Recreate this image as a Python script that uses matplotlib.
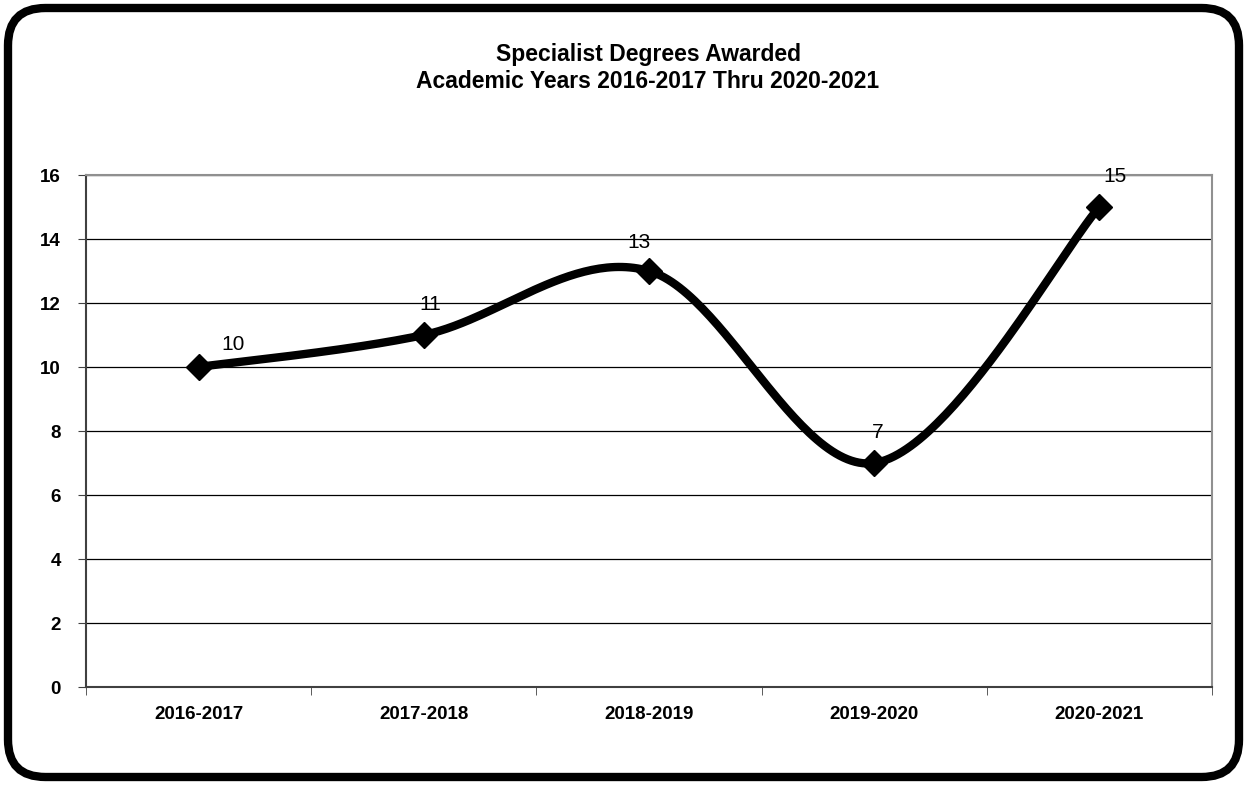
import numpy as np
import matplotlib.pyplot as plt
from matplotlib.patches import FancyBboxPatch

years = ['2016-2017', '2017-2018', '2018-2019', '2019-2020', '2020-2021']
degrees = [10, 11, 13, 7, 15]

plt.rcParams['font.family'] = ['Liberation Sans Narrow', 'Liberation Sans', 'DejaVu Sans']

fig = plt.figure(figsize=(12.47, 7.85), dpi=100)
ax = fig.add_axes([86 / 1247, 1 - 687 / 785, 1126 / 1247, 512 / 785])

# rounded outer frame
frame = FancyBboxPatch((8 / 1247, 8 / 785), 1231 / 1247, 769 / 785,
                       boxstyle='round,pad=0,rounding_size=0.03',
                       transform=fig.transFigure, fill=False,
                       edgecolor='black', linewidth=6, mutation_aspect=1247 / 785)
fig.patches.append(frame)

x = np.arange(len(years))
y = np.array(degrees, dtype=float)

# Excel style smoothed line (Catmull-Rom between points)
px = np.concatenate([[x[0]], x, [x[-1]]])
py = np.concatenate([[y[0]], y, [y[-1]]])
sx, sy = [], []
t = np.linspace(0, 1, 60)
for i in range(1, len(px) - 2):
    p0, p1, p2, p3 = np.array([px[i-1], py[i-1]]), np.array([px[i], py[i]]), np.array([px[i+1], py[i+1]]), np.array([px[i+2], py[i+2]])
    c1 = p1 + (p2 - p0) / 6
    c2 = p2 - (p3 - p1) / 6
    for tt in t:
        pt = (1-tt)**3*p1 + 3*(1-tt)**2*tt*c1 + 3*(1-tt)*tt**2*c2 + tt**3*p2
        sx.append(pt[0]); sy.append(pt[1])

ax.plot(sx, sy, color='black', linewidth=6, solid_capstyle='round', zorder=3)
ax.plot(x, y, linestyle='none', marker='D', markersize=13, color='black', zorder=4)

# label offsets in pixels (as placed in the original)
offsets = [(34, 22), (6, 31), (-10, 28), (3, 31), (16, 31)]
for xi, yi, off in zip(x, degrees, offsets):
    ax.annotate(str(yi), (xi, yi), xytext=off, textcoords='offset pixels',
                ha='center', va='center', fontsize=15, zorder=5)

ax.set_xlim(-0.5, 4.5)
ax.set_ylim(0, 16)
ax.set_yticks(range(0, 17, 2))
ax.set_xticks(x)
ax.set_xticklabels(years, fontsize=13.5, fontweight='bold')
ax.set_xticks(np.arange(-0.5, 4.6, 1), minor=True)
ax.tick_params(axis='x', which='major', length=0, pad=14)
ax.tick_params(axis='x', which='minor', length=6, direction='out', color='#404040')
ax.tick_params(axis='y', length=6, color='#404040', labelsize=13.5, pad=12)
for lbl in ax.get_yticklabels():
    lbl.set_fontweight('bold')
ax.grid(axis='y', color='black', linewidth=0.9)
ax.set_axisbelow(True)
for side in ['top', 'right']:
    ax.spines[side].set_color('#909090')
    ax.spines[side].set_linewidth(1.5)
for side in ['left', 'bottom']:
    ax.spines[side].set_color('#404040')
    ax.spines[side].set_linewidth(1.5)

fig.text(648 / 1247, 1 - 68 / 785, 'Specialist Degrees Awarded\nAcademic Years 2016-2017 Thru 2020-2021',
         ha='center', va='center', fontsize=16.5, fontweight='bold', linespacing=1.25)

fig.savefig('out.png', dpi=100)
